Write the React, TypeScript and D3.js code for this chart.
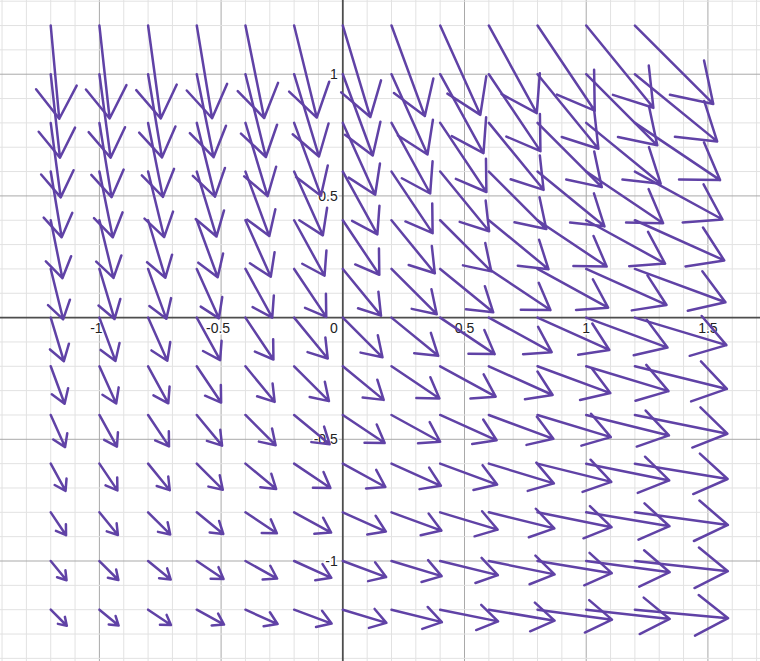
import React, { useRef, useEffect } from 'react';
import * as d3 from 'd3';

// arrow tails (grid points of the field)
const xs = [-1.2, -1, -0.8, -0.6, -0.4, -0.2, 0, 0.2, 0.4, 0.6, 0.8, 1, 1.2];
const ys = [1.2, 1, 0.8, 0.6, 0.4, 0.2, 0, -0.2, -0.4, -0.6, -0.8, -1, -1.2];

// horizontal part of each arrow, one row per y (top to bottom), one column per x
const dxRows = [
  [0.035, 0.042, 0.052, 0.063, 0.077, 0.093, 0.113, 0.137, 0.165, 0.197, 0.235, 0.276, 0.322],
  [0.038, 0.046, 0.057, 0.069, 0.084, 0.102, 0.123, 0.148, 0.178, 0.212, 0.250, 0.292, 0.338],
  [0.041, 0.050, 0.061, 0.075, 0.091, 0.110, 0.133, 0.159, 0.190, 0.225, 0.264, 0.306, 0.350],
  [0.045, 0.055, 0.066, 0.081, 0.098, 0.118, 0.142, 0.169, 0.201, 0.236, 0.275, 0.316, 0.360],
  [0.048, 0.058, 0.071, 0.086, 0.104, 0.125, 0.150, 0.178, 0.210, 0.245, 0.284, 0.324, 0.367],
  [0.051, 0.062, 0.075, 0.091, 0.110, 0.132, 0.157, 0.186, 0.218, 0.253, 0.290, 0.330, 0.372],
  [0.054, 0.066, 0.079, 0.096, 0.115, 0.138, 0.163, 0.192, 0.224, 0.258, 0.295, 0.334, 0.376],
  [0.057, 0.069, 0.083, 0.100, 0.120, 0.143, 0.168, 0.197, 0.228, 0.262, 0.299, 0.338, 0.378],
  [0.059, 0.072, 0.086, 0.104, 0.124, 0.146, 0.172, 0.200, 0.232, 0.265, 0.301, 0.340, 0.380],
  [0.061, 0.074, 0.089, 0.107, 0.126, 0.149, 0.175, 0.203, 0.234, 0.267, 0.303, 0.341, 0.381],
  [0.063, 0.076, 0.091, 0.109, 0.129, 0.152, 0.177, 0.205, 0.236, 0.269, 0.304, 0.342, 0.382],
  [0.065, 0.078, 0.093, 0.110, 0.130, 0.153, 0.178, 0.206, 0.237, 0.270, 0.305, 0.343, 0.382],
  [0.066, 0.079, 0.094, 0.112, 0.132, 0.154, 0.179, 0.207, 0.238, 0.270, 0.306, 0.343, 0.383],
];

// vertical part of each arrow, same layout
const dyRows = [
  [-0.383, -0.382, -0.382, -0.381, -0.380, -0.378, -0.376, -0.372, -0.367, -0.360, -0.350, -0.338, -0.322],
  [-0.343, -0.343, -0.342, -0.341, -0.340, -0.338, -0.334, -0.330, -0.324, -0.316, -0.306, -0.292, -0.276],
  [-0.306, -0.305, -0.304, -0.303, -0.301, -0.299, -0.295, -0.290, -0.284, -0.275, -0.264, -0.250, -0.235],
  [-0.270, -0.270, -0.269, -0.267, -0.265, -0.262, -0.258, -0.253, -0.245, -0.236, -0.225, -0.212, -0.197],
  [-0.238, -0.237, -0.236, -0.234, -0.232, -0.228, -0.224, -0.218, -0.210, -0.201, -0.190, -0.178, -0.165],
  [-0.207, -0.206, -0.205, -0.203, -0.200, -0.197, -0.192, -0.186, -0.178, -0.169, -0.159, -0.148, -0.137],
  [-0.179, -0.178, -0.177, -0.175, -0.172, -0.168, -0.163, -0.157, -0.150, -0.142, -0.133, -0.123, -0.113],
  [-0.154, -0.153, -0.152, -0.149, -0.146, -0.143, -0.138, -0.132, -0.125, -0.118, -0.110, -0.102, -0.093],
  [-0.132, -0.130, -0.129, -0.126, -0.124, -0.120, -0.115, -0.110, -0.104, -0.098, -0.091, -0.084, -0.077],
  [-0.112, -0.110, -0.109, -0.107, -0.104, -0.100, -0.096, -0.091, -0.086, -0.081, -0.075, -0.069, -0.063],
  [-0.094, -0.093, -0.091, -0.089, -0.086, -0.083, -0.079, -0.075, -0.071, -0.066, -0.061, -0.057, -0.052],
  [-0.079, -0.078, -0.076, -0.074, -0.072, -0.069, -0.066, -0.062, -0.058, -0.055, -0.050, -0.046, -0.042],
  [-0.066, -0.065, -0.063, -0.061, -0.059, -0.057, -0.054, -0.051, -0.048, -0.045, -0.041, -0.038, -0.035],
];

const xTicks = [-1, -0.5, 0.5, 1, 1.5];
const xTickLabels = ["-1", "-0.5", "0.5", "1", "1.5"];
const yTicks = [1, 0.5, -0.5, -1];
const yTickLabels = ["1", "0.5", "-0.5", "-1"];

function VectorField() {
  const width = 760;
  const height = 661;
  const ref = useRef(null);

  useEffect(() => {
    const svg = d3.select(ref.current);
    svg.selectAll("*").remove();

    const x = d3.scaleLinear().domain([-1.4084, 1.714]).range([0, width]);
    const y = d3.scaleLinear().domain([1.3049, -1.4108]).range([0, height]);

    svg.append("rect").attr("width", width).attr("height", height).attr("fill", "#fff");

    // grid, every 0.1 with darker lines every 0.5
    const gx = d3.range(-14, 18);
    const gy = d3.range(-14, 14);
    const grid = svg.append("g");
    grid.selectAll("line.vx")
      .data(gx.filter((k) => k !== 0))
      .enter().append("line")
      .attr("x1", (k) => x(k / 10)).attr("x2", (k) => x(k / 10))
      .attr("y1", 0).attr("y2", height)
      .attr("stroke", (k) => (k % 5 === 0 ? "#a9a9a9" : "#e2e2e2"))
      .attr("stroke-width", 1);
    grid.selectAll("line.hy")
      .data(gy.filter((k) => k !== 0))
      .enter().append("line")
      .attr("y1", (k) => y(k / 10)).attr("y2", (k) => y(k / 10))
      .attr("x1", 0).attr("x2", width)
      .attr("stroke", (k) => (k % 5 === 0 ? "#a9a9a9" : "#e2e2e2"))
      .attr("stroke-width", 1);

    // axes
    svg.append("line")
      .attr("x1", 0).attr("x2", width).attr("y1", y(0)).attr("y2", y(0))
      .attr("stroke", "#4d4d4d").attr("stroke-width", 1.8);
    svg.append("line")
      .attr("x1", x(0)).attr("x2", x(0)).attr("y1", 0).attr("y2", height)
      .attr("stroke", "#4d4d4d").attr("stroke-width", 1.8);

    // tick labels
    const labels = svg.append("g")
      .attr("font-family", "'Liberation Sans', Arial, sans-serif")
      .attr("font-size", 14)
      .attr("fill", "#222")
      .attr("stroke", "#fff")
      .attr("stroke-width", 3)
      .attr("stroke-linejoin", "round")
      .attr("paint-order", "stroke");
    labels.selectAll("text.xt")
      .data(xTicks)
      .enter().append("text")
      .attr("x", (d) => x(d) + (d < 0 ? -3 : 0))
      .attr("y", y(0) + 15.5)
      .attr("text-anchor", "middle")
      .text((d, i) => xTickLabels[i]);
    labels.selectAll("text.yt")
      .data(yTicks)
      .enter().append("text")
      .attr("x", x(0) - 5)
      .attr("y", (d) => y(d) + 5)
      .attr("text-anchor", "end")
      .text((d, i) => yTickLabels[i]);
    labels.append("text")
      .attr("x", x(0) - 5)
      .attr("y", y(0) + 15.5)
      .attr("text-anchor", "end")
      .text("0");

    // arrows
    const arrows = [];
    ys.forEach((y0, r) => {
      xs.forEach((x0, c) => {
        arrows.push({ x0, y0, dx: dxRows[r][c], dy: dyRows[r][c] });
      });
    });

    const headAngle = (33 * Math.PI) / 180;
    const arrowPath = (d) => {
      const px = x(d.x0), py = y(d.y0);
      const qx = x(d.x0 + d.dx), qy = y(d.y0 + d.dy);
      const vx = qx - px, vy = qy - py;
      const len = Math.sqrt(vx * vx + vy * vy);
      const bx = -vx / len, by = -vy / len;
      const h = 0.4 * len;
      const rot = (a) => [bx * Math.cos(a) - by * Math.sin(a), bx * Math.sin(a) + by * Math.cos(a)];
      const [ax, ay] = rot(headAngle);
      const [cx, cy] = rot(-headAngle);
      const p = d3.path();
      p.moveTo(px, py);
      p.lineTo(qx, qy);
      p.moveTo(qx + ax * h, qy + ay * h);
      p.lineTo(qx, qy);
      p.lineTo(qx + cx * h, qy + cy * h);
      return p.toString();
    };

    svg.append("g")
      .selectAll("path")
      .data(arrows)
      .enter().append("path")
      .attr("d", arrowPath)
      .attr("fill", "none")
      .attr("stroke", "#6042a6")
      .attr("stroke-width", 2.5)
      .attr("stroke-linecap", "round")
      .attr("stroke-linejoin", "round");
  }, []);

  return (
    <svg ref={ref} width={width} height={height}
      style={{ position: "absolute", left: 0, top: 0, display: "block" }}>
    </svg>
  );
}

export default function App() {
  return <VectorField />;
}
